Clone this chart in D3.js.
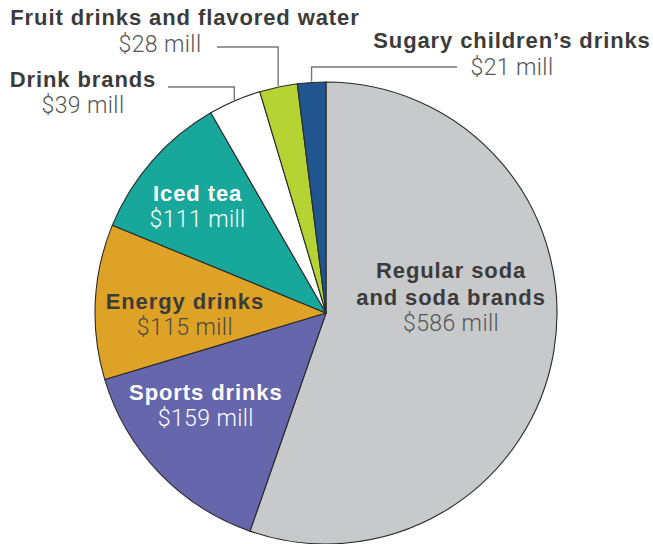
<!DOCTYPE html>
<html>
<head>
<meta charset="utf-8">
<script src="https://cdn.jsdelivr.net/npm/d3@7"></script>
<style>
  body { margin: 0; background: #fff; }
  .name { font-family: "Liberation Sans", Arial, sans-serif; font-weight: bold; font-size: 22px; letter-spacing: 0.9px; }
  .value { font-family: Roboto, "Liberation Sans", sans-serif; font-weight: 300; font-size: 23px; letter-spacing: 0.4px; }
</style>
</head>
<body>
<div id="chart"></div>
<script>
// data
const categories = ['Regular soda and soda brands', 'Sports drinks', 'Energy drinks', 'Iced tea',
    'Drink brands', 'Fruit drinks and flavored water', 'Sugary children\u2019s drinks'];
const values = [586, 159, 115, 111, 39, 28, 21];
const colors = ['#c8c9cb', '#6566ab', '#dea326', '#17a89b', '#ffffff', '#b6d334', '#20558f'];

const width = 653, height = 544;
const cx = 326, cy = 313, radius = 231;

const svg = d3.select('#chart')
    .append('svg')
    .attr('width', width)
    .attr('height', height);

const g = svg.append('g')
    .attr('transform', 'translate(' + cx + ',' + cy + ')');

const rows = categories.map((c, i) => ({name: c, value: values[i], color: colors[i]}));

const pie = d3.pie()
    .sort(null)
    .value(d => d.value);

const arc = d3.arc()
    .innerRadius(0)
    .outerRadius(radius);

const arcs = pie(rows);

g.selectAll('.slice')
    .data(arcs)
    .enter()
    .append('path')
    .attr('class', 'slice')
    .attr('d', arc)
    .attr('fill', d => d.data.color)
    .attr('stroke', '#2a2a2a')
    .attr('stroke-width', 1.1)
    .attr('stroke-linejoin', 'round');

// inside labels: anchor (first line baseline) in polar terms relative to slice middle
const inside = {
    'Regular soda and soda brands': {lines: ['Regular soda', 'and soda brands'], r: 0.562, a: -0.44, fill: '#3b3b3b', vfill: '#555'},
    'Sports drinks': {lines: ['Sports drinks'], r: 0.642, a: 0.138, fill: '#fff', vfill: '#fff'},
    'Energy drinks': {lines: ['Energy drinks'], r: 0.611, a: -0.023, fill: '#3b3b3b', vfill: '#4a4a4a'},
    'Iced tea': {lines: ['Iced tea'], r: 0.739, a: 0, fill: '#fff', vfill: '#fff'}
};

arcs.forEach(d => {
    const lab = inside[d.data.name];
    if (!lab) return;
    const ang = (d.startAngle + d.endAngle) / 2 + lab.a;
    const x = Math.sin(ang) * radius * lab.r;
    const y = -Math.cos(ang) * radius * lab.r;
    const t = g.append('g').attr('transform', 'translate(' + x + ',' + y + ')');
    lab.lines.forEach((ln, i) => {
        t.append('text')
            .attr('class', 'name')
            .attr('text-anchor', 'middle')
            .attr('fill', lab.fill)
            .attr('y', i * 27)
            .text(ln);
    });
    t.append('text')
        .attr('class', 'value')
        .attr('text-anchor', 'middle')
        .attr('fill', lab.vfill)
        .attr('y', (lab.lines.length - 1) * 27 + 26)
        .text('$' + d.data.value + ' mill');
});

// outside labels with leader lines
const outside = {
    'Drink brands': {lineY: 87, lineX: 168, tx: 83, ty: 87, vy: 113},
    'Fruit drinks and flavored water': {lineY: 47, lineX: 217, tx: 185, ty: 25, vx: 160, vy: 52},
    'Sugary children\u2019s drinks': {lineY: 67, lineX: 457, tx: 512, ty: 48, vy: 75}
};

arcs.forEach(d => {
    const lab = outside[d.data.name];
    if (!lab) return;
    const ang = (d.startAngle + d.endAngle) / 2;
    const px = cx + Math.sin(ang) * (radius + 1);
    const py = cy - Math.cos(ang) * (radius + 1);
    svg.append('path')
        .attr('d', 'M' + lab.lineX + ',' + lab.lineY + 'H' + px + 'V' + py)
        .attr('fill', 'none')
        .attr('stroke', '#777')
        .attr('stroke-width', 1.4);
    svg.append('text')
        .attr('class', 'name')
        .attr('text-anchor', 'middle')
        .attr('fill', '#3b3b3b')
        .attr('x', lab.tx)
        .attr('y', lab.ty)
        .text(d.data.name);
    svg.append('text')
        .attr('class', 'value')
        .attr('text-anchor', 'middle')
        .attr('fill', '#555')
        .attr('x', lab.vx || lab.tx)
        .attr('y', lab.vy)
        .text('$' + d.data.value + ' mill');
});
</script>
</body>
</html>
